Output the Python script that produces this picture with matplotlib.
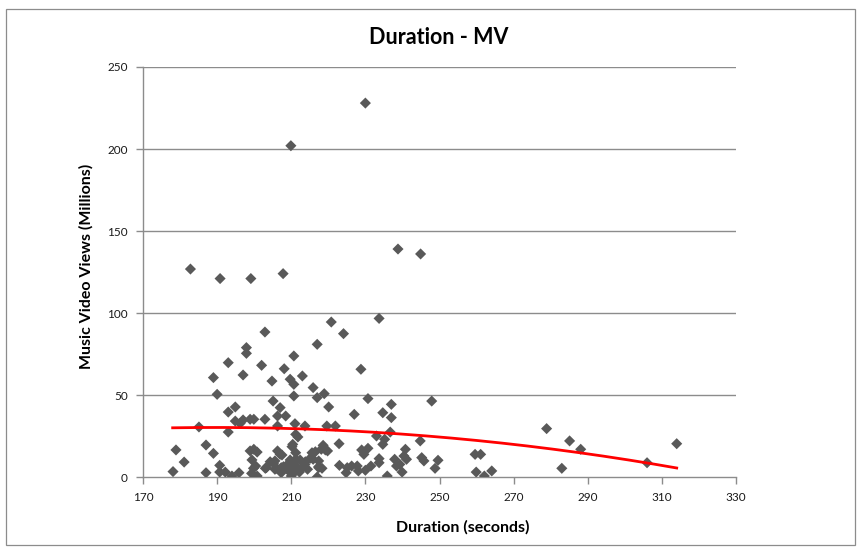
import numpy as np
import matplotlib
matplotlib.use("Agg")
import matplotlib.pyplot as plt
from matplotlib.patches import Rectangle

# ---- data (duration in seconds, views in millions) ----
duration = [
    178.1, 178.9, 181.1, 185.1, 187.0, 187.0, 189.0, 189.0, 190.0, 190.7,
    190.7, 193.0, 193.0, 193.0, 192.2, 194.0, 194.9, 194.9, 195.9, 196.2,
    197.0, 197.0, 197.9, 197.9, 198.9, 198.9, 199.3, 199.9, 199.9, 200.4,
    200.8, 200.8, 202.0, 202.9, 202.9, 203.3, 204.8, 205.1, 205.6, 205.6,
    206.3, 206.3, 206.3, 207.0, 207.0, 207.3, 207.3, 208.1, 208.5, 209.0,
    209.3, 209.7, 210.0, 210.4, 210.7, 210.7, 210.7, 211.0, 211.2, 211.2,
    211.2, 211.2, 211.2, 211.8, 212.2, 213.0, 213.0, 213.7, 213.7, 214.4,
    215.6, 215.9, 215.9, 217.0, 217.0, 217.0, 217.4, 217.4, 218.1, 218.6,
    218.9, 219.6, 219.8, 220.1, 220.8, 221.9, 222.9, 223.0, 224.1, 224.8,
    225.1, 226.3, 227.0, 227.8, 228.1, 228.8, 229.0, 229.6, 230.0, 230.7,
    230.7, 231.5, 233.0, 233.7, 233.7, 233.7, 234.7, 234.7, 235.2, 235.9,
    236.7, 237.0, 237.0, 237.9, 238.4, 239.3, 239.9, 240.4, 240.8, 241.1,
    244.8, 245.2, 245.8, 247.9, 248.8, 249.6, 259.6, 261.1, 259.9, 262.1,
    264.1, 278.9, 283.0, 285.1, 288.1, 306.0, 314.0,
    182.8, 190.8, 199.1, 207.8, 209.9, 230.0, 238.8, 244.9,
    203.0, 205.2, 206.1, 207.5, 207.9, 209.3, 209.7, 210.2, 210.6, 211.5,
    212.4, 213.8, 215.1, 216.5, 217.4, 218.3, 219.2, 199.4, 199.8, 204.3,
]
views = [
    3.3, 16.5, 9.1, 30.5, 2.6, 19.5, 14.4, 60.6, 50.4, 7.1,
    3.0, 69.7, 39.6, 27.4, 3.0, 0.6, 42.7, 34.1, 2.6, 32.7,
    62.2, 34.8, 78.9, 75.4, 35.2, 15.9, 2.2, 35.2, 16.9, 6.7,
    0.6, 15.2, 68.1, 88.4, 35.2, 5.7, 58.5, 46.3, 9.8, 4.7,
    37.2, 31.1, 15.9, 42.3, 13.8, 5.7, 2.6, 66.0, 37.2, 7.7,
    3.7, 59.6, 0.6, 19.9, 73.8, 56.5, 49.4, 32.5, 26.0, 14.8,
    10.8, 6.7, 3.7, 24.4, 3.0, 5.7, 61.6, 31.1, 7.7, 4.7,
    14.8, 10.8, 54.5, 80.9, 48.4, 0.0, 9.8, 5.7, 16.9, 19.3,
    50.8, 31.1, 15.9, 42.7, 94.5, 31.1, 20.3, 7.1, 87.4, 2.6,
    5.7, 6.7, 38.2, 6.7, 3.7, 65.7, 16.5, 13.8, 4.1, 47.8,
    17.5, 6.7, 25.0, 96.7, 8.7, 11.2, 39.2, 19.9, 23.0, 0.6,
    27.4, 44.3, 36.2, 10.8, 6.7, 7.7, 3.0, 12.8, 16.9, 10.8,
    22.0, 11.8, 9.8, 46.3, 5.3, 10.2, 13.8, 13.8, 3.0, 0.6,
    3.7, 29.5, 5.3, 22.0, 16.9, 8.7, 20.3,
    126.8, 121.0, 121.0, 124.0, 202.0, 228.0, 139.0, 136.0,
    5.3, 8.3, 5.3, 13.4, 6.3, 5.3, 10.4, 18.5, 8.3, 4.3,
    10.4, 9.3, 11.4, 15.4, 6.3, 5.3, 16.5, 10.4, 5.3, 9.3,
]

# polynomial (order 2) trendline as shown on the chart
trend_start, trend_end = 178, 314
trend_coeffs = [-0.001595, 0.6046, -27.09]  # a*x^2 + b*x + c

x_ticks = [170, 190, 210, 230, 250, 270, 290, 310, 330]
y_ticks = [0, 50, 100, 150, 200, 250]

title = "Duration - MV"
x_label = "Duration (seconds)"
y_label = "Music Video Views (Millions)"

# ---- drawing ----
plt.rcParams['font.family'] = ['Lato', 'DejaVu Sans']
fig = plt.figure(figsize=(8.6, 5.48), dpi=100)
fig.patch.set_facecolor('white')
fig.patches.append(Rectangle((6/860, 1 - 545/548), 849/860, 536/548,
                             transform=fig.transFigure, fill=False,
                             edgecolor='#8c8c8c', linewidth=0.9))

ax = fig.add_axes([143/860, 1 - 477/548, (736 - 143)/860, (477 - 67)/548])
ax.set_xlim(x_ticks[0], x_ticks[-1])
ax.set_ylim(y_ticks[0], y_ticks[-1])
ax.set_xticks(x_ticks)
ax.set_yticks(y_ticks)

for y in y_ticks[1:]:
    ax.axhline(y, color='#8c8c8c', linewidth=1.0, zorder=1)

ax.scatter(duration, views, marker='D', s=32, color='#595959',
           edgecolors='none', zorder=3)

tx = np.linspace(trend_start, trend_end, 200)
ty = np.polyval(trend_coeffs, tx)
ax.plot(tx, ty, color='#ff0000', linewidth=2.0, zorder=4)

for s in ['top', 'right']:
    ax.spines[s].set_visible(False)
for s in ['left', 'bottom']:
    ax.spines[s].set_color('#8c8c8c')
    ax.spines[s].set_linewidth(1.0)
ax.tick_params(axis='both', direction='out', length=5, width=1.0,
               color='#8c8c8c', labelsize=8.5, labelcolor='#1a1a1a')
ax.tick_params(axis='y', pad=6)
ax.tick_params(axis='x', pad=6)

fig.text(439/860, 1 - 38/548, title, ha='center', va='center',
         fontsize=15.5, fontweight='bold', color='black')
fig.text(463/860, 1 - 527/548, x_label, ha='center', va='center',
         fontsize=11.5, fontweight='bold', color='black')
fig.text(86/860, 1 - 266/548, y_label, ha='center', va='center',
         rotation=90, fontsize=11.5, fontweight='bold', color='black')

fig.savefig('out.png', dpi=100, facecolor='white')
